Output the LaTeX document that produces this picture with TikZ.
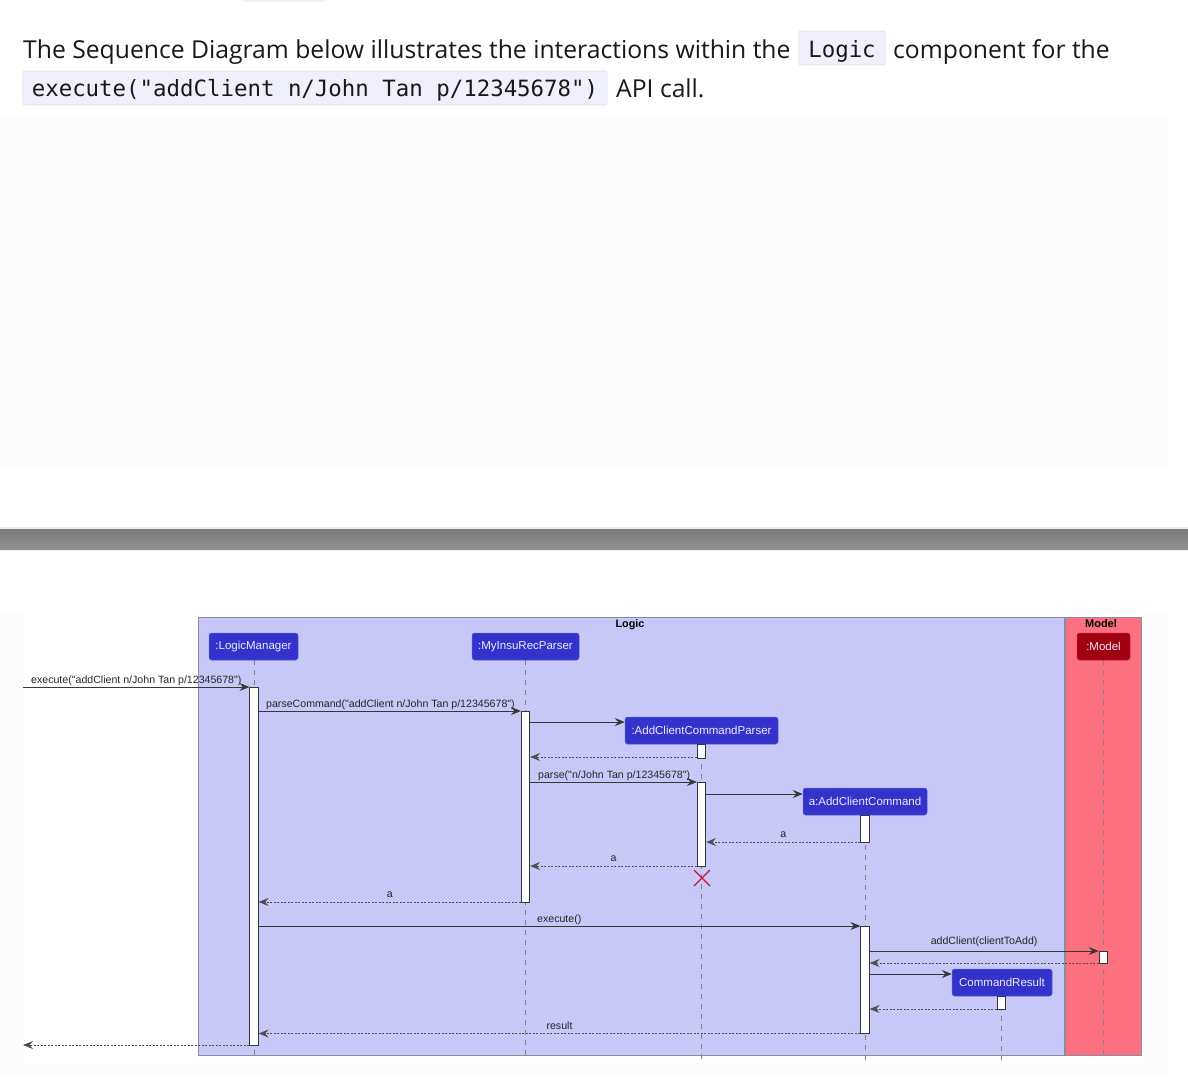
\documentclass[tikz,border=0pt]{standalone}
\usepackage{fontspec}
\setmainfont{Open Sans}
\newfontfamily\diafont{Liberation Sans}
\newfontfamily\codefont{DejaVu Sans Mono}
\usetikzlibrary{arrows.meta}
\definecolor{logicbg}{RGB}{200,200,248}
\definecolor{modelbg}{RGB}{252,112,128}
\definecolor{partblue}{RGB}{51,51,204}
\definecolor{partborder}{RGB}{90,90,220}
\definecolor{partred}{RGB}{160,0,16}
\definecolor{partredborder}{RGB}{190,40,60}
\definecolor{parttext}{RGB}{235,235,255}
\definecolor{codebg}{RGB}{240,240,252}
\definecolor{codeborder}{RGB}{222,222,240}
\definecolor{framecol}{RGB}{140,140,160}
\definecolor{linecol}{RGB}{56,56,56}
\definecolor{retcol}{RGB}{80,80,80}
\definecolor{lifecol}{RGB}{130,130,140}
\definecolor{xcol}{RGB}{200,20,60}
\definecolor{faint}{RGB}{252,252,252}
\definecolor{bartop}{RGB}{122,122,122}
\definecolor{barbot}{RGB}{144,144,144}
\definecolor{barlight}{RGB}{238,238,238}
\tikzset{
  part/.style={rectangle, rounded corners=2.5pt, fill=partblue, draw=partborder, line width=0.5pt,
    text=parttext, font=\diafont\fontsize{11.5}{13}\selectfont, inner sep=0pt, minimum height=27pt},
  act/.style={rectangle, fill=white, draw=linecol, line width=0.7pt, inner sep=0pt, minimum width=8.5pt},
  msg/.style={draw=linecol, line width=0.8pt, -{Stealth[length=10pt,width=8pt,inset=3.5pt]}},
  ret/.style={draw=retcol, line width=0.8pt, dash pattern=on 2pt off 1.5pt, -{Stealth[length=10pt,width=8pt,inset=3.5pt]}},
  life/.style={draw=lifecol, line width=0.6pt, dash pattern=on 5pt off 5pt},
  lab/.style={font=\diafont\fontsize{10.6}{12}\selectfont, inner sep=0pt, text=black!85},
  ttl/.style={font=\diafont\bfseries\fontsize{10.8}{12}\selectfont, inner sep=0pt, text=black},
  codebox/.style={rectangle, rounded corners=2pt, fill=codebg, draw=codeborder, line width=0.8pt},
  codetext/.style={font=\codefont\fontsize{22.4}{26}\selectfont, inner sep=0pt, anchor=base, text=black!90},
  bodytext/.style={font=\fontsize{24.7}{30}\selectfont, inner sep=0pt, anchor=base west, text=black!90}
}
\begin{document}
\begin{tikzpicture}[x=1pt,y=-1pt]
\useasboundingbox (0,0) rectangle (1188,1076);
\fill[white] (0,0) rectangle (1188,1076);
% page parts
\fill[codebg] (243,0) rectangle (325,1.5);
\fill[faint] (0,118) rectangle (1168,467);
\fill[barlight] (0,527) rectangle (1188,551);
\shade[top color=bartop, bottom color=barbot] (0,529) rectangle (1188,549);
\fill[faint] (0,612) rectangle (1168,1076);
\fill[white] (23,612) rectangle (1145,1063);
% top text
\node[bodytext] (t1) at (23,58) {The Sequence Diagram below illustrates the interactions within the};
\draw[codebox] (799,31) rectangle (885,65);
\node[codetext] (c1) at (842,57) {Logic};
\node[bodytext] (t2) at (893,58) {component for the};
\draw[codebox] (23,71) rectangle (607,105);
\node[codetext] (c2) at (315,96) {execute("addClient n/John Tan p/12345678")};
\node[bodytext] (t3) at (616,97) {API call.};
% boxes
\draw[fill=logicbg, draw=framecol, line width=0.8pt] (198,617) rectangle (1064,1055);
\draw[fill=modelbg, draw=framecol, line width=0.8pt] (1065.5,617) rectangle (1141.5,1055);
\node[ttl, anchor=base] (lt) at (630,627) {Logic};
\node[ttl, anchor=base, font=\diafont\bfseries\fontsize{11}{12}\selectfont] (mt) at (1101,627) {Model};
% lifelines
\draw[life] (254,660) -- (254,1060);
\draw[life] (525.5,660) -- (525.5,1060);
\draw[life] (701.5,744) -- (701.5,1060);
\draw[life] (865,815) -- (865,1060);
\draw[life] (1001,996) -- (1001,1060);
\draw[life] (1103,660) -- (1103,1060);
% participants
\node[part, minimum width=89pt] (lm) at (253.5,646.5) {:LogicManager};
\node[part, minimum width=107pt] (mp) at (525.5,646.5) {:MyInsuRecParser};
\node[part, minimum width=153pt] (acp) at (701.5,730.5) {:AddClientCommandParser};
\node[part, minimum width=124pt] (acc) at (865,801.5) {a:AddClientCommand};
\node[part, minimum width=100pt] (cr) at (1002,982.5) {CommandResult};
\node[part, minimum width=53pt, fill=partred, draw=partredborder] (md) at (1103.5,646.5) {:Model};
% activations
\node[act, minimum height=358pt] (lmA) at (254,866) {};
\node[act, minimum height=191pt] (mpA) at (525.5,806.5) {};
\node[act, minimum height=14pt] (acpA1) at (701.5,751) {};
\node[act, minimum height=84pt] (acpA2) at (701.5,824) {};
\node[act, minimum height=27pt] (accA1) at (865,828.5) {};
\node[act, minimum height=107pt] (accA2) at (865,979.5) {};
\node[act, minimum height=13pt, minimum width=8pt] (crA) at (1001,1002.5) {};
\node[act, minimum height=12pt, minimum width=8pt] (mdA) at (1103,957) {};
% destroy
\coordinate (xc) at (702,878);
\draw[xcol, line width=1.3pt] ([shift={(-8,-8)}]xc) -- ([shift={(8,8)}]xc);
\draw[xcol, line width=1.3pt] ([shift={(-8,8)}]xc) -- ([shift={(8,-8)}]xc);
% external ends
\coordinate (extIn) at (23,687);
\coordinate (extOut) at (23,1045);
% messages
\draw[msg] (extIn) -- (lmA.west |- extIn);
\node[lab, anchor=base west] (l1) at (31,683) {execute("addClient n/John Tan p/12345678")};
\draw[msg] (lmA.east |- 0,711) -- (mpA.west |- 0,711);
\node[lab, anchor=base west] (l2) at (266,707) {parseCommand("addClient n/John Tan p/12345678")};
\draw[msg] (mpA.east |- 0,722) -- (acp.west |- 0,722);
\draw[ret] (acpA1.west |- 0,757) -- (mpA.east |- 0,757);
\draw[msg] (mpA.east |- 0,782) -- (acpA2.west |- 0,782);
\node[lab, anchor=base west] (l3) at (538,778) {parse("n/John Tan p/12345678")};
\draw[msg] (acpA2.east |- 0,794) -- (acc.west |- 0,794);
\draw[ret] (accA1.west |- 0,842) -- (acpA2.east |- 0,842) node[lab, midway, above=4pt] (l4) {a};
\draw[ret] (acpA2.west |- 0,866) -- (mpA.east |- 0,866) node[lab, midway, above=4pt] (l5) {a};
\draw[ret] (mpA.west |- 0,902) -- (lmA.east |- 0,902) node[lab, midway, above=4pt] (l6) {a};
\draw[msg] (lmA.east |- 0,926) -- (accA2.west |- 0,926);
\node[lab, anchor=base west] (l7) at (537,922) {execute()};
\draw[msg] (accA2.east |- 0,951) -- (mdA.west |- 0,951) node[lab, midway, above=4pt] (l8) {addClient(clientToAdd)};
\draw[ret] (mdA.west |- 0,963) -- (accA2.east |- 0,963);
\draw[msg] (accA2.east |- 0,974) -- (cr.west |- 0,974);
\draw[ret] (crA.west |- 0,1009) -- (accA2.east |- 0,1009);
\draw[ret] (accA2.west |- 0,1033.5) -- (lmA.east |- 0,1033.5) node[lab, midway, above=4pt] (l9) {result};
\draw[ret] (lmA.west |- extOut) -- (extOut);
\end{tikzpicture}
\end{document}
